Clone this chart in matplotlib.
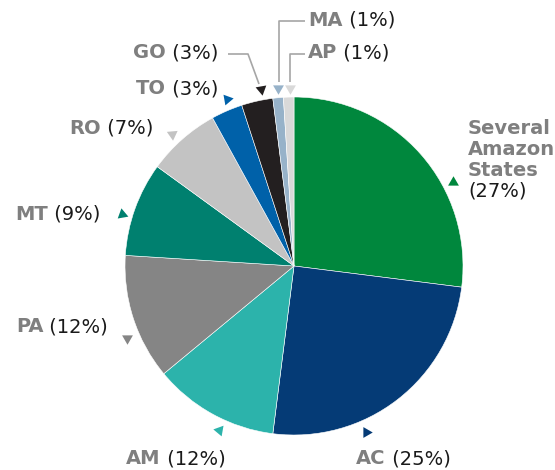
import matplotlib
matplotlib.use("Agg")
import matplotlib.pyplot as plt

# ---- data ----
names = ["Several\nAmazon\nStates", "AC", "AM", "PA", "MT", "RO", "TO", "GO", "MA", "AP"]
values = [27, 25, 12, 12, 9, 7, 3, 3, 1, 1]
pct_labels = ["(27%)", "(25%)", "(12%)", "(12%)", "(9%)", "(7%)", "(3%)", "(3%)", "(1%)", "(1%)"]
colors = ["#00873D", "#053B76", "#2CB3AB", "#858585", "#00806F",
          "#C3C3C3", "#0061A9", "#231F20", "#97B2C9", "#D9D9D9"]

# ---- layout (pixel space of a 555x470 image) ----
W, H = 555, 470
CX, CY, R = 294, 266, 169


def P(x, y):
    return ((x - CX) / R, (CY - y) / R)


# label anchor: (x, y, mode)  'left' -> x is left edge, 'right' -> x is right edge
label_pos = [
    (468, 119, "multi"),
    (356, 459, "left"),
    (126, 459, "left"),
    (108, 327, "right"),
    (100, 214, "right"),
    (153, 128, "right"),
    (218, 89, "right"),
    (218, 53, "right"),
    (308, 20, "left"),
    (308, 53, "left"),
]
tri_pos = [
    (453, 182, 0), (366, 432, -90), (219, 430, 80), (127, 338, 180), (122, 214, 10),
    (172, 134, 185), (227, 99, 160), (261, 89, 190), (278, 88, 180), (290, 88, 180),
]
leaders = {
    7: [(228, 54), (248, 54), (259, 84)],
    8: [(305, 21), (279, 21), (279, 82)],
    9: [(305, 54), (290, 54), (290, 82)],
}

NAME_COLOR = "#7F7F7F"
PCT_COLOR = "#1A1A1A"
LINE_COLOR = "#A6A6A6"
FS = 14

plt.rcParams["font.family"] = ["DejaVu Sans"]
fig = plt.figure(figsize=(W / 100, H / 100), dpi=100)
ax = fig.add_axes([0, 0, 1, 1])

ax.pie(values, colors=colors, startangle=90, counterclock=False, radius=1,
       center=(0, 0), wedgeprops=dict(edgecolor="white", linewidth=0.4))

ax.set_aspect("auto")
ax.set_xlim(-CX / R, (W - CX) / R)
ax.set_ylim(-(H - CY) / R, CY / R)
ax.axis("off")

# leader lines
for i, pts in leaders.items():
    xs, ys = zip(*[P(*p) for p in pts])
    ax.plot(xs, ys, color=LINE_COLOR, lw=1.2, solid_capstyle="butt")

# pointer triangles
for i, (x, y, rot) in enumerate(tri_pos):
    ax.plot(*P(x, y), marker=(3, 0, rot), markersize=9, color=colors[i],
            markeredgewidth=0, linestyle="none")

# labels
for i, (x, y, mode) in enumerate(label_pos):
    px, py = P(x, y)
    if mode == "multi":
        t = ax.text(px, py, names[i], ha="left", va="top", fontsize=FS,
                    fontweight="bold", color=NAME_COLOR, linespacing=1.15)
        ax.annotate(pct_labels[i], xy=(0, 0), xycoords=t, xytext=(0, -1),
                    textcoords="offset points", ha="left", va="top",
                    fontsize=FS, color=PCT_COLOR)
    elif mode == "left":
        t = ax.text(px, py, names[i], ha="left", va="center", fontsize=FS,
                    fontweight="bold", color=NAME_COLOR)
        ax.annotate(" " + pct_labels[i], xy=(1, 0), xycoords=t, ha="left",
                    va="bottom", fontsize=FS, color=PCT_COLOR)
    else:
        t = ax.text(px, py, " " + pct_labels[i], ha="right", va="center",
                    fontsize=FS, color=PCT_COLOR)
        ax.annotate(names[i], xy=(0, 0), xycoords=t, ha="right", va="bottom",
                    fontsize=FS, fontweight="bold", color=NAME_COLOR)

fig.savefig("out.png", dpi=100)
